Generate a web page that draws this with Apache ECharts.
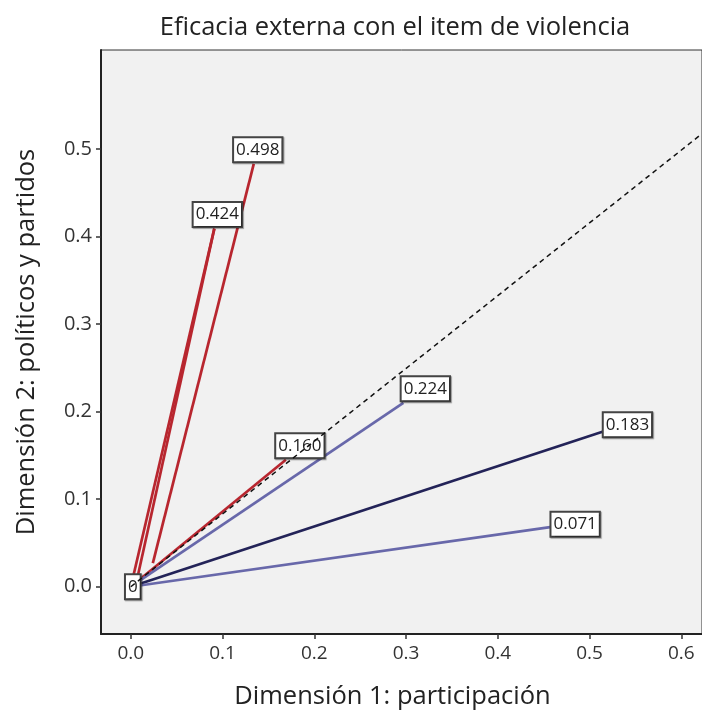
<!DOCTYPE html>
<html>
<head>
<meta charset="utf-8">
<script src="https://cdn.jsdelivr.net/npm/echarts@6/dist/echarts.min.js"></script>
<style>
  html, body { margin: 0; padding: 0; background: #fff; }
  #chart { width: 702px; height: 717px; }
</style>
</head>
<body>
<div id="chart"></div>
<script>
// segments drawn from a start point to an end point
const segStart = [[0, 0], [0.005, 0], [0.024, 0.027], [0, 0], [0, 0], [0, 0], [0, 0]]
const segEnd = [[0.091, 0.409], [0.091, 0.409], [0.134, 0.483], [0.169, 0.145], [0.297, 0.21], [0.514, 0.177], [0.457, 0.068]]
const segGroup = ["rojo", "rojo", "rojo", "rojo", "azul", "marino", "azul"]

// labelled points
const pointXY = [[0, 0], [0.091, 0.409], [0.134, 0.483], [0.169, 0.145], [0.297, 0.21], [0.514, 0.177], [0.457, 0.068]]
const pointLabel = ["0", "0.424", "0.498", "0.160", "0.224", "0.183", "0.071"]

// dashed reference line
const refLine = [[0, 0], [0.622, 0.517]]

// tick values
const xTicks = [0, 0.1, 0.2, 0.3, 0.4, 0.5, 0.6]
const yTicks = [0, 0.1, 0.2, 0.3, 0.4, 0.5]

const groupColor = { rojo: "#b8262f", azul: "#6868aa", marino: "#232358" }
const labelOffset = [[2, 0], [3, -14], [4, -14], [14, -14], [22, -14], [25, -7], [25, -3]]

const chart = echarts.init(document.getElementById("chart"))
const font = "'Open Sans', sans-serif"

let series = segStart.map((s, i) => ({
    type: "line",
    data: [s, segEnd[i]],
    symbol: "none",
    z: 2,
    lineStyle: { color: groupColor[segGroup[i]], width: 2.7 },
}))

series.push({
    type: "scatter",
    symbolSize: 0,
    z: 3,
    itemStyle: { opacity: 1 },
    data: pointXY.map((p, i) => ({
        value: p,
        label: { offset: labelOffset[i], formatter: pointLabel[i] },
    })),
    label: {
        show: true,
        position: "inside",
        fontFamily: font,
        fontSize: 17,
        lineHeight: 21,
        color: "#222",
        backgroundColor: "#fff",
        borderColor: "#444",
        borderWidth: 2,
        padding: [1, 2, 1, 2],
        shadowColor: "rgba(0,0,0,0.35)",
        shadowOffsetX: 1,
        shadowOffsetY: 1,
        shadowBlur: 1,
    },
})

series.push({
    type: "line",
    data: refLine,
    symbol: "none",
    z: 10,
    lineStyle: { color: "#111", width: 1.5, type: [5, 4] },
})

let option = {
    animation: false,
    title: {
        text: "Eficacia externa con el item de violencia",
        left: 390,
        top: 10,
        textAlign: "center",
        textStyle: { fontFamily: font, fontSize: 25.5, fontWeight: "normal", color: "#222" },
    },
    grid: {
        left: 101,
        right: -3,
        top: 50,
        bottom: 83,
        show: true,
        backgroundColor: "#f1f1f1",
        borderColor: "#333",
        borderWidth: 1,
    },
    xAxis: {
        type: "value",
        min: -0.0325,
        max: 0.6225,
        name: "Dimensión 1: participación",
        nameLocation: "middle",
        nameGap: 50,
        nameTextStyle: { fontFamily: font, fontSize: 25.5, color: "#222", padding: [0, 18, 0, 0] },
        axisLine: { onZero: false, lineStyle: { color: "#222", width: 2 } },
        axisTick: { show: true, length: 5, customValues: xTicks, lineStyle: { color: "#333", width: 1.5 } },
        axisLabel: {
            customValues: xTicks,
            fontFamily: font,
            fontSize: 19,
            color: "#333",
            margin: 10,
            formatter: (v) => v.toFixed(1),
        },
        splitLine: { show: false },
    },
    yAxis: {
        type: "value",
        min: -0.054,
        max: 0.613,
        name: "Dimensión 2: políticos y partidos",
        nameLocation: "middle",
        nameGap: 61,
        nameTextStyle: { fontFamily: font, fontSize: 25.5, color: "#222" },
        axisLine: { onZero: false, lineStyle: { color: "#222", width: 2 } },
        axisTick: { show: true, length: 5, customValues: yTicks, lineStyle: { color: "#333", width: 1.5 } },
        axisLabel: {
            customValues: yTicks,
            fontFamily: font,
            fontSize: 20,
            color: "#333",
            margin: 9,
            formatter: (v) => v.toFixed(1),
        },
        splitLine: { show: false },
    },
    series: series,
}

chart.setOption(option)
</script>
</body>
</html>
